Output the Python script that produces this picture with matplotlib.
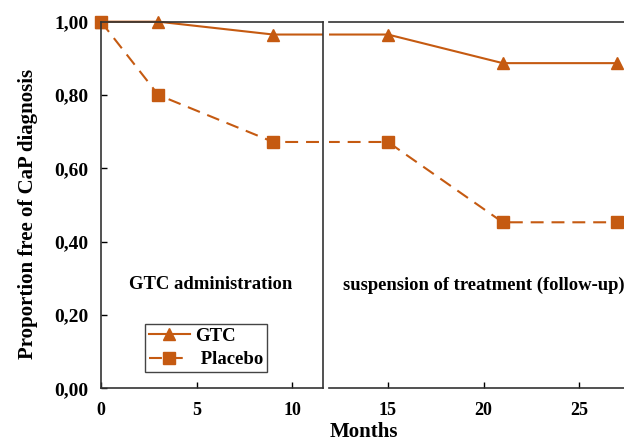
import matplotlib
matplotlib.use('Agg')
import matplotlib.pyplot as plt
from matplotlib.transforms import Bbox, TransformedBbox

# Datos
meses = [0, 3, 9, 15, 21, 27]
gtc = [1.00, 1.00, 0.965, 0.965, 0.887, 0.887]
placebo = [1.00, 0.80, 0.672, 0.672, 0.453, 0.453]
yticks = [0.0, 0.2, 0.4, 0.6, 0.8, 1.0]
ytick_labels = ['0,00', '0,20', '0,40', '0,60', '0,80', '1,00']

color = '#c55a11'
plt.rcParams['font.family'] = ['Liberation Serif', 'DejaVu Serif']
plt.rcParams['font.weight'] = 'bold'

fig = plt.figure(figsize=(6.24, 4.41), dpi=100)
ax1 = fig.add_axes([101/624, 1 - 388.4/441, (323 - 101)/624, 366.7/441])
ax2 = fig.add_axes([329/624, 1 - 388.4/441, (624 - 329)/624 + 0.01, 366.7/441])

for ax, x0 in ((ax1, -0.05), (ax2, 0)):
    l1, = ax.plot(meses, gtc, color=color, lw=1.5, marker='^', markersize=9)
    l2, = ax.plot(meses, placebo, color=color, lw=1.5, marker='s', markersize=8,
                  dashes=(6.2, 3.8))
    # recorte solo por el lado del hueco, para que los marcadores del borde se vean enteros
    caja = TransformedBbox(Bbox([[x0, -0.1], [1, 1.1]]), ax.transAxes)
    for ln in (l1, l2):
        ln.set_clip_box(caja)
    ax.set_ylim(0, 1.0)
    ax.tick_params(direction='in', length=4, width=1, colors='black')
    ax.tick_params(axis='x', pad=10, labelsize=13)
    ax.tick_params(axis='y', pad=9, labelsize=14)
    for s in ax.spines.values():
        s.set_color('#333333')
        s.set_linewidth(1.2)

ax1.set_xlim(0, 11.6)
ax1.set_xticks([0, 5, 10])
ax1.set_yticks(yticks)
ax1.set_yticklabels(ytick_labels)

ax2.set_xlim(11.92, 27.34 + 0.01 * 624 / 19.13)
ax2.set_xticks([15, 20, 25])
ax2.set_yticks([])
ax2.spines['left'].set_visible(False)
ax2.spines['right'].set_visible(False)

fig.text(28/624, 0.515, 'Proportion free of CaP diagnosis', fontsize=15, fontweight='bold',
         rotation=90, ha='center', va='center')
fig.text(364/624, 1 - 422/441, 'Months', fontsize=15, fontweight='bold', ha='center', va='top')

ax1.text(5.75, 0.282, 'GTC administration', fontsize=13.4, fontweight='bold', ha='center', va='center')
ax2.text(12.65, 0.282, 'suspension of treatment (follow-up)', fontsize=13.4, fontweight='bold',
         ha='left', va='center', clip_on=False)

leg = fig.legend([l1, l2], ['GTC', ' Placebo'], loc='lower left',
                 bbox_to_anchor=(145/624, 1 - 372/441), borderaxespad=0,
                 fontsize=13.5, handlelength=2.2, handletextpad=0.3, fancybox=False,
                 framealpha=1, edgecolor='#444444', borderpad=0.2, labelspacing=0.35)
leg.get_frame().set_linewidth(1.0)

fig.savefig('out.png', dpi=100)
